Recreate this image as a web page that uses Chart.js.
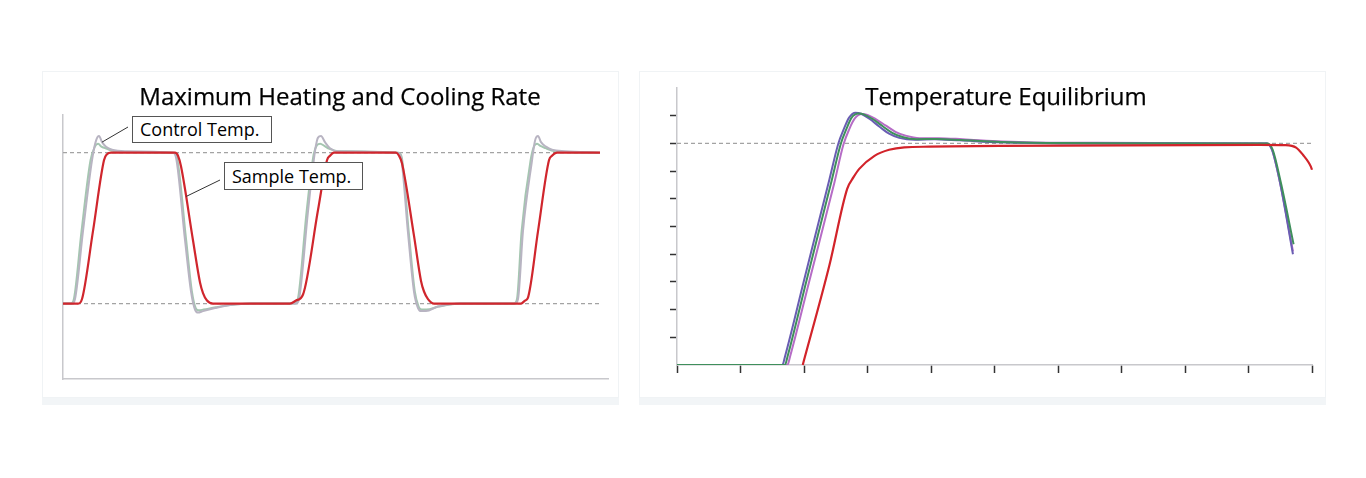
<!DOCTYPE html>
<html>
<head>
<meta charset="utf-8">
<script src="https://cdn.jsdelivr.net/npm/chart.js@4.4.1/dist/chart.umd.min.js"></script>
<style>
  html, body { margin:0; padding:0; background:#ffffff; }
  body { width:1366px; height:478px; position:relative; overflow:hidden; font-family:"Open Sans", "Noto Sans", sans-serif; }
  .panel { position:absolute; background:#ffffff; border:1px solid #f0f3f5; box-sizing:border-box; }
  .band { position:absolute; background:#f2f5f7; }
  canvas { position:absolute; }
  .title { position:absolute; font-size:24px; line-height:24px; color:#000; white-space:nowrap; transform:translateX(-50%); -webkit-text-stroke:0.25px #000; }
  .lbl { position:absolute; box-sizing:border-box; border:1px solid #555; background:#fff; font-size:18px; color:#000; white-space:nowrap; padding-left:7px; }
</style>
</head>
<body>
<div class="panel" style="left:42px;top:71px;width:577px;height:327px;"></div>
<div class="band" style="left:42px;top:398px;width:577px;height:7px;"></div>
<div class="panel" style="left:639px;top:71px;width:687px;height:327px;"></div>
<div class="band" style="left:639px;top:398px;width:687px;height:7px;"></div>

<canvas id="left" width="575" height="326" style="left:43px;top:72px;width:575px;height:326px;"></canvas>
<canvas id="right" width="685" height="326" style="left:640px;top:72px;width:685px;height:326px;"></canvas>

<div class="title" id="titleL" style="left:340px;top:84px;">Maximum Heating and Cooling Rate</div>
<div class="title" id="titleR" style="left:1006px;top:84px;">Temperature Equilibrium</div>
<div class="lbl" id="lblControl" style="left:132px;top:116px;width:140px;height:27px;line-height:25px;">Control Temp.</div>
<div class="lbl" id="lblSample" style="left:224px;top:162px;width:139px;height:28px;line-height:26px;">Sample Temp.</div>

<script>
// ---------- Left chart: Maximum Heating and Cooling Rate ----------
// x: time (arbitrary units 0-100), y: normalized temperature (0 = low set point, 1 = high set point)
const sampleX = [0, 2.75, 3.49, 5.50, 7.52, 8.07, 8.81, 20.55, 21.10, 21.65, 23.85, 25.14, 25.69, 26.42, 27.52,
  41.65, 42.75, 44.04, 46.79, 48.44, 48.99, 49.72, 61.10, 61.65, 62.20, 64.40, 65.69, 66.24, 66.97, 68.07,
  84.04, 84.77, 85.32, 87.16, 89.17, 89.72, 90.64, 98.53];
const sampleY = [0, 0, 0.03, 0.48, 0.95, 0.99, 1.0, 1.0, 0.98, 0.91, 0.42, 0.14, 0.07, 0.02, 0,
  0, 0.02, 0.06, 0.62, 0.95, 0.98, 1.0, 1.0, 0.98, 0.93, 0.45, 0.15, 0.08, 0.03, 0,
  0, 0.02, 0.04, 0.48, 0.95, 0.98, 1.0, 1.0];

const controlGrayX = [0, 1.65, 2.20, 3.67, 5.32, 6.06, 6.61, 7.16, 7.89, 8.99, 11.38, 20.18, 20.73, 22.39, 23.49,
  24.22, 24.77, 25.69, 27.89, 30.64, 34.31, 42.75, 43.30, 44.95, 46.24, 46.79, 47.34, 48.07, 48.99, 50.46,
  61.47, 62.02, 63.30, 64.40, 65.14, 65.69, 66.61, 68.81, 72.84, 82.94, 83.49, 84.40, 86.06, 86.61, 87.16,
  87.71, 88.62, 89.72, 92.11, 98.53];
const controlGrayY = [0, 0, 0.03, 0.48, 0.95, 1.08, 1.11, 1.07, 1.04, 1.02, 1.01, 1.0, 0.97, 0.42, 0.08,
  -0.04, -0.06, -0.05, -0.03, -0.01, 0, 0, 0.03, 0.61, 1.01, 1.10, 1.11, 1.07, 1.03, 1.01,
  1.0, 0.97, 0.47, 0.08, -0.03, -0.05, -0.05, -0.02, 0, 0, 0.03, 0.48, 0.95, 1.08, 1.11,
  1.07, 1.04, 1.02, 1.01, 1.0];
const controlGreenX = [0, 1.45, 2.00, 3.40, 5.05, 5.85, 6.45, 7.05, 7.80, 8.90, 11.30, 20.30, 20.90, 22.60, 23.65,
  24.35, 24.90, 25.80, 28.00, 30.70, 34.40, 42.55, 43.10, 44.70, 46.00, 46.60, 47.20, 47.95, 48.90, 50.40,
  61.60, 62.15, 63.45, 64.55, 65.25, 65.80, 66.70, 68.90, 72.90, 82.75, 83.30, 84.15, 85.80, 86.40, 87.00,
  87.60, 88.55, 89.65, 92.05, 98.53];
const controlGreenY = [0, 0, 0.03, 0.48, 0.95, 1.04, 1.06, 1.04, 1.03, 1.015, 1.005, 1.0, 0.97, 0.42, 0.08,
  -0.03, -0.045, -0.04, -0.025, -0.01, 0, 0, 0.03, 0.61, 0.99, 1.05, 1.06, 1.045, 1.025, 1.01,
  1.0, 0.97, 0.47, 0.08, -0.02, -0.04, -0.04, -0.02, 0, 0, 0.03, 0.48, 0.95, 1.04, 1.06,
  1.045, 1.03, 1.015, 1.005, 1.0];

const setPointX = [0, 98.9];
const setHighY = [1, 1];
const setLowY = [0, 0];

// ---------- Right chart: Temperature Equilibrium ----------
const purpleX = [0, 1.66, 1.70, 2.00, 2.40, 2.54, 2.63, 2.71, 2.81, 2.90, 3.03, 3.19, 3.34, 3.50, 3.74, 4.05, 4.45, 5.08, 6.03, 9.29, 9.37, 9.50, 9.70];
const purpleY = [0, 0, 0.3, 3.05, 6.7, 7.99, 8.53, 8.93, 9.11, 9.07, 8.89, 8.60, 8.35, 8.20, 8.13, 8.15, 8.11, 8.04, 8.00, 8.00, 7.77, 6.54, 4.00];
const greenX = [0, 1.70, 1.74, 2.04, 2.44, 2.58, 2.67, 2.75, 2.86, 2.95, 3.08, 3.24, 3.39, 3.55, 3.78, 4.08, 4.48, 5.10, 6.05, 9.30, 9.38, 9.51, 9.71];
const greenY = [0, 0, 0.3, 3.05, 6.7, 7.99, 8.53, 8.93, 9.08, 9.04, 8.88, 8.62, 8.38, 8.23, 8.15, 8.16, 8.12, 8.05, 8.01, 8.00, 7.78, 6.58, 4.36];
const magentaX = [0, 1.74, 1.78, 2.08, 2.48, 2.62, 2.71, 2.80, 2.91, 3.00, 3.13, 3.29, 3.44, 3.60, 3.82, 4.12, 4.50, 5.12, 6.08, 9.29, 9.37, 9.50, 9.70];
const magentaY = [0, 0, 0.3, 3.0, 6.6, 7.95, 8.50, 8.90, 9.06, 9.03, 8.88, 8.64, 8.42, 8.28, 8.19, 8.19, 8.15, 8.07, 8.02, 8.00, 7.77, 6.55, 4.10];
const redX = [1.98, 2.40, 2.68, 2.78, 2.87, 3.11, 3.34, 3.58, 3.97, 5.08, 9.18, 9.58, 9.75, 9.86, 9.95, 10.0, 10.03];
const redY = [0, 3.6, 6.36, 6.78, 7.08, 7.55, 7.77, 7.86, 7.88, 7.91, 7.95, 7.94, 7.85, 7.58, 7.30, 7.05, 6.72];
const targetX = [0, 10];
const targetY = [8, 8];
const rightTickValues = [1, 2, 3, 4, 5, 6, 7, 8, 9];

const pts = (xs, ys) => xs.map((x, i) => ({ x: x, y: ys[i] }));
const line = (xs, ys, color, extra) => Object.assign({
  data: pts(xs, ys), borderColor: color, borderWidth: 2, pointRadius: 0, fill: false,
  cubicInterpolationMode: 'monotone'
}, extra || {});
const dashed = (xs, ys) => ({
  data: pts(xs, ys), borderColor: '#a3a3a3', borderWidth: 1.3, borderDash: [4, 3],
  pointRadius: 0, fill: false, tension: 0
});

const axisBorder = { display: true, color: '#c8c8cc', width: 1.5 };

// leader lines from label boxes to curves, anchored on data values
const leaderPlugin = {
  id: 'leaders',
  afterDatasetsDraw(chart) {
    const { ctx, scales } = chart;
    const cRect = chart.canvas.getBoundingClientRect();
    const anchors = [
      { el: 'lblControl', dy: 11, x: controlGrayX[7], y: controlGrayY[7] },
      { el: 'lblSample', dy: 18, x: 22.6, y: 0.71 }
    ];
    ctx.save();
    ctx.strokeStyle = '#333';
    ctx.lineWidth = 1;
    anchors.forEach(a => {
      const r = document.getElementById(a.el).getBoundingClientRect();
      const sx = r.left - cRect.left - 4, sy = r.top - cRect.top + a.dy;
      ctx.beginPath();
      ctx.moveTo(sx, sy);
      ctx.lineTo(scales.x.getPixelForValue(a.x), scales.y.getPixelForValue(a.y));
      ctx.stroke();
    });
    ctx.restore();
  }
};

new Chart(document.getElementById('left'), {
  type: 'line',
  data: {
    datasets: [
      line(sampleX, sampleY, '#d0262d', { borderWidth: 2.2 }),
      line(controlGrayX, controlGrayY, '#b8b4c2', { borderWidth: 2 }),
      line(controlGreenX, controlGreenY, '#a4c6b0', { borderWidth: 2 }),
      dashed(setPointX, setHighY),
      dashed(setPointX, setLowY)
    ]
  },
  options: {
    responsive: false, animation: false,
    layout: { padding: { left: 20, right: 10, top: 43, bottom: 19 } },
    plugins: { legend: { display: false }, tooltip: { enabled: false }, title: { display: false } },
    scales: {
      x: { type: 'linear', min: 0, max: 100, ticks: { display: false }, grid: { display: false, drawTicks: false }, border: axisBorder },
      y: { type: 'linear', min: -0.5, max: 1.25, ticks: { display: false }, grid: { display: false, drawTicks: false }, border: axisBorder }
    }
  },
  plugins: [leaderPlugin]
});

new Chart(document.getElementById('right'), {
  type: 'line',
  data: {
    datasets: [
      line(redX, redY, '#d2232a', { borderWidth: 2.2, clip: false }),
      line(greenX, greenY, '#3f8f5c'),
      line(purpleX, purpleY, '#6a5db3'),
      line(magentaX, magentaY, '#b66cc6'),
      dashed(targetX, targetY)
    ]
  },
  options: {
    responsive: false, animation: false,
    layout: { padding: { left: 30, right: 13, top: 16, bottom: 25 } },
    plugins: { legend: { display: false }, tooltip: { enabled: false }, title: { display: false } },
    scales: {
      x: {
        type: 'linear', min: 0, max: 10,
        ticks: { display: false, stepSize: 1 },
        grid: { display: true, drawOnChartArea: false, drawTicks: true, tickLength: 8, tickColor: '#333', tickWidth: 1.5 },
        border: axisBorder
      },
      y: {
        type: 'linear', min: 0, max: 10,
        ticks: { display: false, stepSize: 1 },
        afterBuildTicks: s => { s.ticks = rightTickValues.map(v => ({ value: v })); },
        grid: { display: true, drawOnChartArea: false, drawTicks: true, tickLength: 7, tickColor: '#333', tickWidth: 1.5 },
        border: axisBorder
      }
    }
  }
});
</script>
</body>
</html>
